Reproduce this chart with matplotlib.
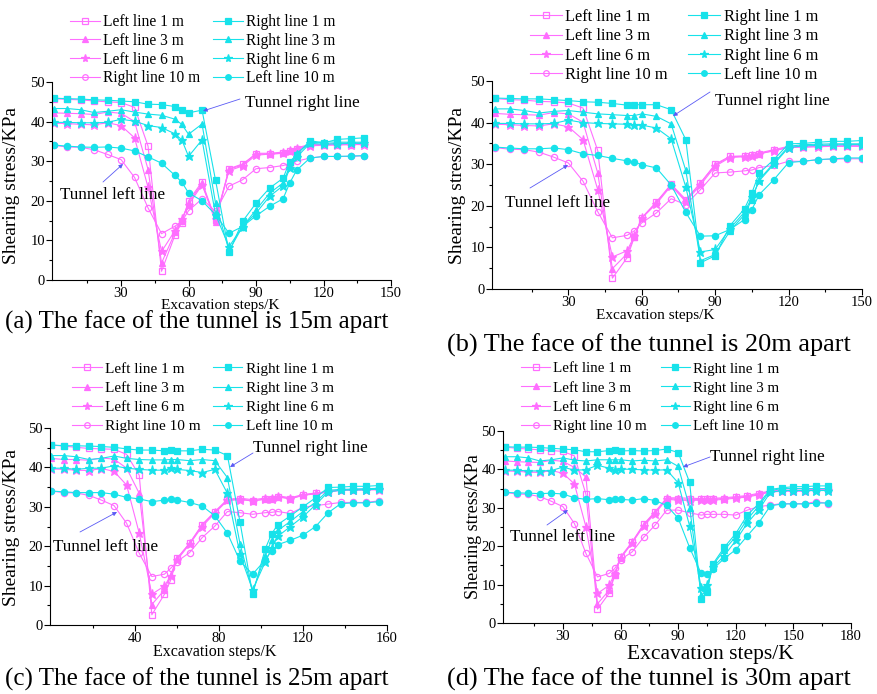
import matplotlib
matplotlib.use("Agg")
import matplotlib.pyplot as plt
from matplotlib.ticker import FixedLocator

plt.rcParams["font.family"] = ["Liberation Serif", "DejaVu Serif"]

W, H = 877, 694
PINK = "#FF6EFF"
CYAN = "#17E2EA"
ARROW = "#5A5AF5"

LABELS = ["Left line 1 m", "Left line 3 m", "Left line 6 m", "Right line 10 m",
          "Right line 1 m", "Right line 3 m", "Right line 6 m", "Left line 10 m"]

# panel (a): faces 15 m apart
X_A = [0, 6, 12, 18, 24, 30, 36, 42, 48, 54, 57, 60, 66, 72, 78, 84, 90, 96, 102, 105,
       108, 114, 120, 126, 132, 138]
L1_A = [45.8, 45.6, 45.5, 45.2, 45.0, 44.8, 43.6, 33.8, 2.2, 11.4, 14.5, 20.0, 24.8, 15.2,
        28.1, 29.3, 31.8, 31.8, 32.0, 32.5, 33.2, 34.1, 34.1, 34.2, 34.2, 34.3]
L3_A = [42.2, 42.1, 42.0, 41.8, 42.4, 42.1, 40.0, 27.9, 4.3, 12.0, 15.0, 19.5, 24.4, 14.6,
        28.0, 29.0, 32.0, 32.0, 32.3, 32.8, 33.4, 34.2, 34.3, 34.5, 34.6, 34.6]
L6_A = [39.6, 39.5, 39.3, 39.2, 39.7, 39.0, 35.9, 23.4, 7.2, 12.5, 15.5, 19.0, 24.0, 15.5,
        27.6, 28.8, 31.5, 31.8, 32.0, 32.5, 33.1, 33.9, 34.0, 34.1, 34.2, 34.2]
R10_A = [34.0, 33.6, 33.5, 32.9, 31.7, 30.4, 25.9, 18.2, 11.7, 13.6, 14.8, 17.5, 20.5, 17.3,
         23.7, 25.3, 28.1, 28.4, 28.9, 29.4, 30.0, 30.8, 31.2, 31.2, 31.2, 31.4]
R1_A = [45.9, 45.8, 45.7, 45.5, 45.4, 45.2, 45.0, 44.4, 44.3, 43.8, 42.9, 42.2, 42.9, 25.2,
        7.0, 14.8, 19.4, 23.2, 25.7, 29.9, 31.6, 35.2, 34.6, 35.5, 35.7, 35.9]
R3_A = [43.3, 43.3, 43.0, 42.3, 42.6, 43.0, 42.4, 41.9, 41.6, 40.6, 39.3, 36.8, 39.4, 19.4,
        7.4, 13.5, 17.7, 21.9, 24.5, 28.8, 32.0, 34.6, 34.9, 34.8, 34.8, 34.8]
R6_A = [39.8, 39.8, 39.7, 39.7, 39.8, 40.6, 40.1, 39.0, 38.5, 36.9, 35.4, 31.2, 35.4, 16.5,
        8.4, 13.5, 16.9, 21.1, 23.8, 28.2, 31.0, 34.5, 34.3, 34.4, 34.5, 34.5]
L10_A = [34.1, 33.8, 33.6, 33.5, 33.6, 33.3, 32.6, 31.1, 29.5, 26.4, 24.7, 22.0, 20.0, 16.5,
         11.8, 13.5, 16.2, 18.6, 20.5, 24.5, 27.7, 30.8, 31.2, 31.2, 31.3, 31.4]

# panel (b): faces 20 m apart
X_B = [0, 6, 12, 18, 24, 30, 36, 42, 48, 54, 57, 60, 66, 72, 78, 84, 90, 96, 102, 105,
       108, 114, 120, 126, 132, 138, 144, 150]
L1_B = [45.8, 45.5, 45.4, 45.1, 45.0, 44.7, 43.5, 33.3, 2.6, 7.5, 12.5, 17.1, 20.9, 25.2,
        21.5, 25.5, 30.0, 31.9, 31.9, 32.1, 32.5, 33.3, 34.1, 34.1, 34.3, 34.3, 34.4, 34.4]
L3_B = [42.2, 42.0, 41.9, 41.8, 42.4, 42.1, 40.1, 27.9, 4.9, 8.5, 12.5, 17.1, 20.9, 25.0,
        21.2, 25.5, 29.8, 31.8, 32.0, 32.3, 32.7, 33.5, 34.3, 34.4, 34.5, 34.6, 34.6, 34.6]
L6_B = [39.6, 39.5, 39.3, 39.2, 39.7, 39.0, 35.9, 23.9, 7.7, 9.2, 12.8, 17.0, 20.5, 24.8,
        21.0, 25.0, 29.5, 31.6, 31.8, 32.0, 32.5, 33.2, 34.0, 34.1, 34.2, 34.3, 34.3, 34.3]
R10_B = [34.0, 33.6, 33.5, 32.9, 31.7, 30.3, 25.9, 18.6, 12.3, 12.9, 14.0, 15.9, 18.3, 21.7,
         20.3, 23.9, 27.9, 28.1, 28.4, 28.6, 29.2, 29.7, 30.7, 30.7, 31.1, 31.2, 31.3, 31.3]
R1_B = [45.9, 45.8, 45.7, 45.7, 45.5, 45.3, 45.0, 44.9, 44.6, 44.2, 44.3, 44.3, 44.3, 43.1,
        35.9, 6.3, 8.0, 15.2, 19.3, 23.1, 27.9, 31.1, 34.9, 35.0, 35.3, 35.5, 35.5, 35.7]
R3_B = [43.3, 43.3, 42.9, 42.3, 42.7, 42.9, 42.5, 42.1, 41.9, 41.7, 41.7, 42.1, 41.5, 39.7,
        28.5, 6.8, 8.3, 13.9, 17.9, 21.5, 26.3, 30.3, 34.3, 34.7, 34.8, 34.9, 34.9, 34.9]
R6_B = [39.8, 39.8, 39.7, 39.7, 39.8, 40.6, 40.0, 39.8, 39.7, 39.6, 39.4, 39.4, 38.7, 36.1,
        24.5, 8.9, 9.5, 14.5, 18.5, 22.0, 26.0, 30.0, 34.0, 34.4, 34.5, 34.6, 34.7, 34.7]
L10_B = [34.1, 33.9, 33.7, 33.7, 33.9, 33.5, 32.5, 32.1, 31.4, 30.8, 30.5, 29.9, 29.1, 25.0,
         18.4, 12.7, 12.8, 14.3, 16.7, 19.1, 22.7, 26.3, 30.4, 30.7, 31.1, 31.3, 31.5, 31.5]

# panel (c): faces 25 m apart
X_C = [0, 6, 12, 18, 24, 30, 36, 42, 48, 54, 57, 60, 66, 72, 78, 84, 90, 96, 102, 105,
       108, 114, 120, 126, 132, 138, 144, 150, 156]
L1_C = [45.7, 45.4, 45.1, 44.8, 44.7, 44.6, 43.3, 38.0, 2.6, 7.8, 11.4, 16.9, 20.7, 25.4,
        28.6, 31.7, 32.0, 31.5, 32.0, 32.1, 32.6, 32.1, 33.0, 33.4, 33.8, 34.3, 34.3, 34.4, 34.4]
L3_C = [42.3, 42.0, 42.0, 41.8, 42.4, 42.1, 39.8, 33.4, 5.2, 8.9, 12.8, 16.9, 20.8, 25.5,
        28.8, 31.9, 32.2, 31.8, 32.2, 32.3, 32.8, 32.3, 33.1, 33.5, 33.9, 34.4, 34.4, 34.5, 34.5]
L6_C = [39.6, 39.5, 39.3, 39.2, 39.7, 39.0, 35.5, 23.3, 7.8, 9.9, 12.5, 16.5, 20.5, 25.0,
        28.4, 31.6, 31.8, 31.5, 31.9, 32.0, 32.5, 32.0, 32.9, 33.3, 33.7, 34.2, 34.2, 34.3, 34.3]
R10_C = [34.0, 33.6, 33.5, 32.9, 31.7, 30.3, 25.8, 18.2, 12.3, 12.9, 14.4, 16.1, 18.4, 22.2,
         25.1, 28.8, 28.5, 28.1, 28.5, 28.6, 28.8, 28.3, 29.9, 30.3, 30.7, 31.1, 31.1, 31.1, 31.5]
R1_C = [45.7, 45.5, 45.5, 45.4, 45.3, 45.1, 44.7, 44.4, 44.4, 44.2, 44.4, 44.2, 44.2, 44.6,
        44.4, 43.0, 26.1, 7.8, 19.3, 23.1, 25.5, 27.7, 30.0, 32.3, 34.9, 35.0, 35.2, 35.2, 35.4]
R3_C = [43.0, 43.0, 42.7, 42.0, 42.3, 42.9, 42.3, 42.0, 41.9, 41.9, 42.0, 42.0, 41.7, 42.0,
        41.7, 37.4, 20.6, 8.5, 17.5, 21.5, 24.0, 26.3, 28.8, 31.2, 34.2, 34.4, 34.5, 34.6, 34.7]
R6_C = [39.8, 39.8, 39.5, 39.8, 39.8, 40.4, 39.8, 39.5, 39.3, 39.3, 39.8, 39.5, 39.2, 38.7,
        39.5, 33.4, 17.9, 8.9, 16.0, 19.5, 22.5, 25.0, 27.5, 30.5, 33.8, 34.2, 34.3, 34.3, 34.5]
L10_C = [34.0, 33.8, 33.6, 33.6, 33.6, 33.2, 32.4, 32.0, 31.3, 31.7, 31.9, 31.7, 31.1, 30.2,
         27.7, 23.3, 16.2, 12.9, 16.5, 18.8, 20.4, 21.5, 22.8, 25.0, 28.5, 30.8, 31.0, 31.0, 31.3]

# panel (d): faces 30 m apart
X_D = [0, 6, 12, 18, 24, 30, 36, 42, 48, 54, 57, 60, 66, 72, 78, 84, 90, 96, 102, 105,
       108, 114, 120, 126, 132, 138, 144, 150, 156, 162, 168]
L1_D = [45.8, 45.5, 45.3, 45.1, 44.9, 44.7, 43.5, 33.5, 3.6, 7.7, 12.4, 17.2, 21.1, 25.7,
        29.0, 32.4, 32.3, 32.2, 32.2, 32.3, 32.3, 32.4, 32.7, 33.0, 33.6, 34.3, 34.5, 34.5,
        34.5, 34.8, 34.8]
L3_D = [42.2, 42.0, 41.9, 41.8, 42.4, 42.1, 40.5, 38.0, 5.0, 8.5, 12.6, 17.0, 21.0, 25.5,
        28.8, 32.6, 32.6, 32.5, 32.4, 32.5, 32.5, 32.6, 32.9, 33.2, 33.8, 34.4, 34.6, 34.6,
        34.6, 34.9, 34.9]
L6_D = [39.6, 39.5, 39.3, 39.2, 39.7, 39.0, 36.2, 25.0, 7.7, 9.8, 12.8, 16.8, 20.8, 25.2,
        28.5, 32.2, 32.0, 31.9, 32.0, 32.0, 32.0, 32.2, 32.5, 32.8, 33.4, 34.1, 34.3, 34.3,
        34.3, 34.6, 34.6]
R10_D = [34.0, 33.6, 33.5, 32.9, 31.7, 30.3, 25.9, 18.1, 12.0, 12.9, 14.2, 16.5, 18.5, 22.3,
         25.5, 29.4, 29.4, 28.7, 28.1, 28.3, 28.3, 28.3, 28.1, 29.4, 30.3, 30.7, 31.1, 31.1,
         31.1, 31.6, 31.1]
R1_D = [45.9, 45.8, 45.8, 45.7, 45.5, 45.3, 45.1, 44.6, 44.6, 44.9, 45.0, 44.8, 44.9, 44.8,
        44.9, 45.3, 44.4, 36.6, 6.3, 8.1, 15.3, 19.7, 23.3, 28.1, 31.1, 34.8, 35.2, 35.5,
        35.5, 35.7, 35.7]
R3_D = [43.3, 43.3, 43.0, 42.2, 42.5, 43.0, 42.4, 42.2, 42.5, 42.5, 42.5, 42.5, 42.2, 42.4,
        42.2, 42.5, 40.8, 30.0, 7.2, 8.5, 15.0, 19.0, 22.5, 27.0, 30.5, 34.5, 35.0, 35.0,
        35.0, 35.0, 35.0]
R6_D = [39.8, 39.8, 39.6, 39.6, 39.7, 40.6, 39.8, 39.9, 41.1, 40.3, 39.9, 40.1, 40.0, 39.9,
        39.8, 39.9, 36.5, 25.2, 9.2, 9.8, 14.5, 17.5, 21.5, 26.0, 29.5, 34.0, 34.5, 34.5,
        34.5, 34.5, 34.5]
L10_D = [34.0, 33.9, 33.8, 33.7, 33.8, 33.6, 32.6, 32.2, 32.4, 32.1, 32.3, 32.2, 32.0, 32.4,
         31.9, 30.6, 27.3, 19.6, 12.9, 12.8, 14.0, 16.8, 19.1, 22.7, 26.1, 30.5, 31.0, 31.0,
         31.0, 31.2, 31.3]

CAPTIONS = ["(a) The face of the tunnel is 15m apart",
            "(b) The face of the tunnel is 20m apart",
            "(c) The face of the tunnel is 25m apart",
            "(d) The face of the tunnel is 30m apart"]

# marker, filled, colour for each of the eight series
STYLES = [("s", False, PINK), ("^", True, PINK), ("*", True, PINK), ("o", False, PINK),
          ("s", True, CYAN), ("^", True, CYAN), ("*", True, CYAN), ("o", True, CYAN)]

# layout in reference pixels (from top-left)
PANELS = [
    dict(x=X_A, ys=[L1_A, L3_A, L6_A, R10_A, R1_A, R3_A, R6_A, L10_A],
         box=(52, 82, 391, 280), xlim=(-0.7, 150), major=[30, 60, 90, 120, 150],
         minor=[15, 45, 75, 105, 135],
         legend=(70, 14, 11.2, 0.18, 0.8),
         right=((245, 103), (240, 99), (203, 111)),
         left=((60, 195), (103, 182), (123, 164)),
         xlabel=(220, 305, 11), ylabel=(12, 185, 14),
         caption=(5, 322, 18)),
    dict(x=X_B, ys=[L1_B, L3_B, L6_B, R10_B, R1_B, R3_B, R6_B, L10_B],
         box=(492, 81, 862, 289), xlim=(-1.2, 150), major=[30, 60, 90, 120, 150],
         minor=[15, 45, 75, 105, 135],
         legend=(530, 9, 11.8, 0.2, 1.25),
         right=((715, 101), (710, 92), (673, 116)),
         left=((505, 203), (530, 188), (568, 165)),
         xlabel=(655, 316, 11), ylabel=(458, 185, 14),
         caption=(447, 345, 18.9)),
    dict(x=X_C, ys=[L1_C, L3_C, L6_C, R10_C, R1_C, R3_C, R6_C, L10_C],
         box=(50, 428, 387, 625), xlim=(-0.5, 160), major=[40, 80, 120, 160],
         minor=[20, 60, 100, 140],
         legend=(72, 362, 11, 0.36, 0.8),
         right=((253, 448), (253, 453), (230, 467)),
         left=((53, 547), (80, 532), (117, 512)),
         xlabel=(215, 652, 11.5), ylabel=(12, 527, 14),
         caption=(5, 679, 18)),
    dict(x=X_D, ys=[L1_D, L3_D, L6_D, R10_D, R1_D, R3_D, R6_D, L10_D],
         box=(503, 431, 851, 623), xlim=(-1.2, 180), major=[30, 60, 90, 120, 150, 180],
         minor=[15, 45, 75, 105, 135, 165],
         legend=(521, 362, 10.8, 0.38, 0.9),
         right=((710, 457), (710, 457), (683, 467)),
         left=((510, 537), (547, 525), (568, 510)),
         xlabel=(710, 654, 15.5), ylabel=(474, 527, 13),
         caption=(447, 679, 18.9)),
]


def fig_xy(px, py):
    return px / W, 1 - py / H


def draw_panel(fig, p, caption):
    l, t, r, b = p["box"]
    ax = fig.add_axes([l / W, 1 - b / H, (r - l) / W, (b - t) / H])
    handles = []
    for ys, label, (mk, filled, col) in zip(p["ys"], LABELS, STYLES):
        ms = 6.5 if mk == "*" else 4.5
        h, = ax.plot(p["x"], ys, color=col, lw=0.8, marker=mk, ms=ms,
                     mfc=col if filled else "none", mec=col, mew=0.9, label=label)
        handles.append(h)

    ax.set_xlim(*p["xlim"])
    ax.set_ylim(0, 50)
    ax.xaxis.set_major_locator(FixedLocator(p["major"]))
    ax.xaxis.set_minor_locator(FixedLocator(p["minor"]))
    ax.yaxis.set_major_locator(FixedLocator([0, 10, 20, 30, 40, 50]))
    ax.yaxis.set_minor_locator(FixedLocator([5, 15, 25, 35, 45]))
    ax.tick_params(which="both", direction="out", labelsize=10.5, width=0.8, pad=1)
    ax.tick_params(which="major", length=4)
    ax.tick_params(which="minor", length=2)
    for side in ("top", "right"):
        ax.spines[side].set_visible(False)
    for side in ("left", "bottom"):
        ax.spines[side].set_linewidth(0.8)

    lx, ly, lfs, lsp, csp = p["legend"]
    fig.legend(handles=handles, labels=LABELS, ncol=2, frameon=False,
               loc="upper left", bbox_to_anchor=fig_xy(lx, ly), fontsize=lfs,
               borderpad=0, borderaxespad=0, handlelength=1.95, handletextpad=0.2,
               columnspacing=csp, labelspacing=lsp, markerscale=0.9)

    for key, text in (("right", "Tunnel right line"), ("left", "Tunnel left line")):
        (tx, ty), (sx, sy), (ex, ey) = p[key]
        fig.text(*fig_xy(tx, ty), text, fontsize=12.3, ha="left", va="center")
        ax.annotate("", xy=fig_xy(ex, ey), xytext=fig_xy(sx, sy),
                    xycoords="figure fraction", textcoords="figure fraction",
                    arrowprops=dict(arrowstyle="-|>", color=ARROW, lw=0.6,
                                    mutation_scale=6, shrinkA=0, shrinkB=0))

    xx, xy, xs = p["xlabel"]
    fig.text(*fig_xy(xx, xy), "Excavation steps/K", fontsize=xs, ha="center", va="center")
    yx, yy, ys_ = p["ylabel"]
    fig.text(*fig_xy(yx, yy), "Shearing stress/KPa", fontsize=ys_, rotation=90,
             ha="center", va="center")
    cx, cy, cs = p["caption"]
    fig.text(*fig_xy(cx, cy), caption, fontsize=cs, ha="left", va="center")


def main() -> None:
    fig = plt.figure(figsize=(W / 100, H / 100), dpi=100)
    for p, caption in zip(PANELS, CAPTIONS):
        draw_panel(fig, p, caption)
    fig.savefig("out.png", dpi=100)
    plt.close(fig)


if __name__ == "__main__":
    main()
